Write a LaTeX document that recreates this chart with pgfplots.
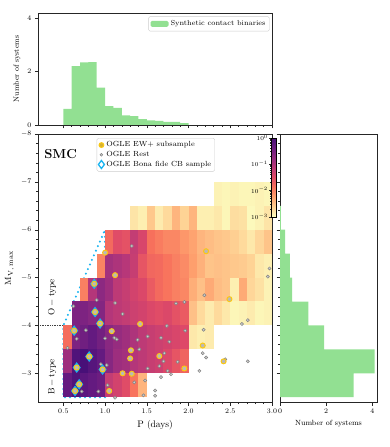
\documentclass[border=0pt]{standalone}
\usepackage{pgfplots}
\usepackage{pgfplotstable}
\pgfplotsset{compat=1.18}

\definecolor{histgreen}{RGB}{146,224,146}
\definecolor{cbcyan}{RGB}{25,180,240}
\definecolor{ewgold}{RGB}{250,200,20}
\definecolor{restgray}{RGB}{130,130,130}

% one heat-map cell: 0.1 d wide, 0.5 mag high at the axis scale used below
\pgfdeclareplotmark{cell}{%
  \pgfpathrectangle{\pgfpoint{-4.2pt}{-12pt}}{\pgfpoint{8.4pt}{24pt}}%
  \pgfusepathqfill}

\pgfplotsset{
  colormap={magmar}{rgb255(0pt)=(252,253,191); rgb255(13pt)=(254,207,146);
    rgb255(26pt)=(254,159,109); rgb255(38pt)=(247,112,92); rgb255(51pt)=(222,73,104);
    rgb255(64pt)=(183,55,121); rgb255(77pt)=(140,41,129); rgb255(90pt)=(100,26,128);
    rgb255(100pt)=(72,16,120)},
  panel/.style={
    scale only axis, tick align=outside, tick pos=left,
    major tick length=3.5pt, minor tick length=2pt,
    axis line style={black!85}, every tick/.style={black!85},
    tick label style={font=\fontsize{7}{8}\selectfont},
  },
}

% log10 of the fraction of systems per cell
\pgfplotstableread{
P M v
2.35 -6.75 -2.91
2.45 -6.75 -2.94
2.55 -6.75 -2.91
2.65 -6.75 -2.94
2.75 -6.75 -2.94
2.85 -6.75 -2.91
2.95 -6.75 -2.94
1.35 -6.25 -2.79
1.45 -6.25 -2.88
1.55 -6.25 -2.55
1.65 -6.25 -2.85
1.75 -6.25 -2.70
1.85 -6.25 -2.40
1.95 -6.25 -2.64
2.05 -6.25 -2.40
2.15 -6.25 -2.88
2.25 -6.25 -2.88
2.35 -6.25 -2.82
2.45 -6.25 -2.94
2.55 -6.25 -2.73
2.65 -6.25 -2.76
2.75 -6.25 -2.97
2.85 -6.25 -2.91
2.95 -6.25 -2.79
1.05 -5.75 -1.80
1.15 -5.75 -1.50
1.25 -5.75 -1.56
1.35 -5.75 -1.20
1.45 -5.75 -1.41
1.55 -5.75 -1.86
1.65 -5.75 -1.95
1.75 -5.75 -2.04
1.85 -5.75 -2.04
1.95 -5.75 -2.16
2.05 -5.75 -2.25
2.15 -5.75 -2.40
2.25 -5.75 -2.46
2.35 -5.75 -2.52
2.45 -5.75 -2.55
2.55 -5.75 -2.61
2.65 -5.75 -2.70
2.75 -5.75 -2.82
2.85 -5.75 -2.67
2.95 -5.75 -2.52
0.95 -5.25 -2.01
1.05 -5.25 -0.90
1.15 -5.25 -0.99
1.25 -5.25 -1.08
1.35 -5.25 -1.23
1.45 -5.25 -1.59
1.55 -5.25 -1.77
1.65 -5.25 -1.80
1.75 -5.25 -1.89
1.85 -5.25 -1.98
1.95 -5.25 -2.07
2.05 -5.25 -2.22
2.15 -5.25 -2.37
2.25 -5.25 -2.52
2.35 -5.25 -2.49
2.45 -5.25 -2.52
2.55 -5.25 -2.55
2.65 -5.25 -2.58
2.75 -5.25 -2.64
2.85 -5.25 -2.82
2.95 -5.25 -2.88
0.75 -4.75 -1.98
0.85 -4.75 -1.05
0.95 -4.75 -0.69
1.05 -4.75 -0.84
1.15 -4.75 -1.14
1.25 -4.75 -1.23
1.35 -4.75 -1.35
1.45 -4.75 -1.44
1.55 -4.75 -1.65
1.65 -4.75 -1.80
1.75 -4.75 -1.89
1.85 -4.75 -1.98
1.95 -4.75 -2.04
2.05 -4.75 -2.34
2.15 -4.75 -2.49
2.25 -4.75 -2.31
2.35 -4.75 -2.46
2.45 -4.75 -2.52
2.55 -4.75 -2.88
2.65 -4.75 -2.31
2.75 -4.75 -2.67
2.85 -4.75 -2.76
2.95 -4.75 -2.91
0.65 -4.25 -0.54
0.75 -4.25 -0.54
0.85 -4.25 -0.63
0.95 -4.25 -0.60
1.05 -4.25 -1.05
1.15 -4.25 -1.14
1.25 -4.25 -1.20
1.35 -4.25 -1.29
1.45 -4.25 -1.35
1.55 -4.25 -1.44
1.65 -4.25 -1.50
1.75 -4.25 -1.44
1.85 -4.25 -1.56
1.95 -4.25 -1.65
2.05 -4.25 -2.49
2.15 -4.25 -2.70
2.25 -4.25 -2.85
2.35 -4.25 -2.70
2.45 -4.25 -2.82
2.55 -4.25 -2.94
2.65 -4.25 -2.91
2.75 -4.25 -2.85
2.85 -4.25 -2.94
2.95 -4.25 -2.91
0.55 -3.75 -1.83
0.65 -3.75 -0.54
0.75 -3.75 -0.42
0.85 -3.75 -0.30
0.95 -3.75 -0.45
1.05 -3.75 -0.66
1.15 -3.75 -0.78
1.25 -3.75 -0.87
1.35 -3.75 -0.99
1.45 -3.75 -1.14
1.55 -3.75 -1.23
1.65 -3.75 -1.29
1.75 -3.75 -1.35
1.85 -3.75 -1.41
1.95 -3.75 -1.47
2.05 -3.75 -2.82
2.15 -3.75 -2.88
2.25 -3.75 -2.85
0.55 -3.25 -0.84
0.65 -3.25 -0.09
0.75 -3.25 0.00
0.85 -3.25 -0.15
0.95 -3.25 -0.30
1.05 -3.25 -0.63
1.15 -3.25 -0.84
1.25 -3.25 -0.90
1.35 -3.25 -1.05
1.45 -3.25 -1.14
1.55 -3.25 -1.23
1.65 -3.25 -1.29
1.75 -3.25 -1.44
1.85 -3.25 -1.59
1.95 -3.25 -1.74
0.55 -2.75 -0.30
0.65 -2.75 -0.09
0.75 -2.75 -0.21
0.85 -2.75 -0.30
0.95 -2.75 -0.39
1.05 -2.75 -1.20
1.15 -2.75 -1.35
1.25 -2.75 -1.50
1.35 -2.75 -1.89
1.45 -2.75 -2.40
}\heat

\pgfplotstableread{
P M
1.00 -5.52
1.12 -5.05
2.21 -5.55
2.49 -4.55
1.42 -4.03
1.08 -3.88
1.31 -3.48
1.30 -3.31
1.65 -3.36
2.17 -3.58
2.42 -3.25
1.95 -3.10
1.21 -3.00
1.32 -2.99
1.05 -2.63
0.87 -4.87
0.88 -4.28
0.94 -4.04
0.63 -3.89
0.81 -3.35
0.66 -3.12
0.97 -3.08
0.69 -2.77
0.64 -2.63
}\ewplus

\pgfplotstableread{
P M
1.32 -5.66
2.97 -5.19
2.95 -5.02
2.19 -4.63
0.62 -4.40
0.90 -4.53
1.12 -4.47
1.85 -4.46
1.95 -4.49
1.21 -4.24
2.71 -4.11
2.64 -4.03
1.74 -3.99
1.96 -3.89
2.18 -3.91
0.77 -3.90
1.00 -3.73
1.11 -3.74
1.14 -3.71
1.39 -3.70
1.51 -3.77
1.67 -3.74
1.77 -3.66
0.55 -3.53
1.41 -3.50
1.71 -3.42
2.17 -3.42
2.21 -3.33
2.44 -3.29
2.71 -3.25
1.70 -3.25
1.87 -3.24
0.95 -3.19
1.02 -3.17
1.51 -3.10
1.65 -3.15
1.75 -3.05
1.79 -2.98
2.13 -3.05
1.33 -2.97
1.67 -2.92
1.48 -2.85
1.35 -2.81
1.03 -2.75
0.72 -2.62
0.92 -2.62
1.46 -2.54
1.60 -2.64
1.60 -2.53
1.12 -2.49
0.66 -3.72
}\rest

\pgfplotstableread{
P M
0.87 -4.87
0.88 -4.28
0.94 -4.04
0.63 -3.89
0.81 -3.35
0.66 -3.12
0.97 -3.08
0.69 -2.77
0.64 -2.63
}\bonafide

\begin{document}
\begin{tikzpicture}
\useasboundingbox (-38.3pt,-45pt) rectangle (350.7pt,402pt);

% ---- main panel
\begin{axis}[panel, name=main, at={(0pt,0pt)}, anchor=south west,
  width=233.7pt, height=268pt,
  xmin=0.2, xmax=3.0, ymin=-8, ymax=-2.4, y dir=reverse,
  xtick={0.5,1,...,3}, minor x tick num=4,
  ytick={-8,-7,...,-3}, minor y tick num=4,
  xticklabel style={/pgf/number format/.cd, fixed, fixed zerofill, precision=1},
  xlabel={P (days)}, ylabel={$\mathrm{M_{V,\;max}}$},
  xlabel style={font=\fontsize{9.5}{11}\selectfont},
  ylabel style={font=\fontsize{9.5}{11}\selectfont},
  axis on top,
  colormap name=magmar, point meta min=-3, point meta max=0,
  colorbar,
  colorbar style={
    at={(parent axis.north east)}, anchor=north east, xshift=-4pt, yshift=-3.7pt,
    scale only axis, width=5pt, height=79pt,
    ytick={-3,-2,-1,0}, yticklabels={$10^{-3}$,$10^{-2}$,$10^{-1}$,$10^{0}$},
    minor ytick={-2.699,-2.523,-2.398,-2.301,-2.222,-2.155,-2.097,-2.046,
                 -1.699,-1.523,-1.398,-1.301,-1.222,-1.155,-1.097,-1.046,
                 -0.699,-0.523,-0.398,-0.301,-0.222,-0.155,-0.097,-0.046},
    yticklabel pos=left, ytick pos=left, tick align=outside,
    major tick length=2.5pt, minor tick length=1.3pt,
    yticklabel style={font=\fontsize{6.5}{7}\selectfont, inner sep=1pt},
  },
  legend cell align=left,
  legend style={at={(0.25,0.985)}, anchor=north west, draw=black!20,
    rounded corners=1.5pt, font=\fontsize{7.4}{8}\selectfont,
    inner sep=1.5pt, row sep=-1pt},
]
\addlegendimage{only marks, mark=*, mark size=2.4pt, draw=ewgold, fill=ewgold!70!gray, line width=1pt}
\addlegendentry{OGLE EW+ subsample}
\addlegendimage{only marks, mark=*, mark size=1.4pt, draw=restgray, fill=gray!40, line width=0.5pt}
\addlegendentry{OGLE Rest}
\addlegendimage{only marks, mark=diamond, mark size=4pt, draw=cbcyan, line width=1.3pt}
\addlegendentry{OGLE Bona fide CB sample}

\addplot[scatter, only marks, mark=cell, point meta=explicit,
  scatter/use mapped color={fill=mapped color, draw=none}, forget plot]
  table[x=P, y=M, meta=v] {\heat};

\addplot[black!75, densely dotted, line width=0.7pt, forget plot]
  coordinates {(0.2,-4) (2.0,-4)};
\addplot[cbcyan, line width=2.3pt, line cap=round, dash pattern=on 0pt off 5pt, forget plot]
  coordinates {(1.0,-2.5) (0.5,-2.5) (0.5,-4.0) (1.0,-6.0) (1.0,-2.5)};

\addplot[only marks, mark=*, mark size=1.6pt, draw=restgray, fill=gray!40,
  line width=0.5pt, forget plot] table[x=P, y=M] {\rest};
\addplot[only marks, mark=diamond, mark size=4.2pt, draw=cbcyan,
  line width=1.5pt, forget plot] table[x=P, y=M] {\bonafide};
\addplot[only marks, mark=*, mark size=2.5pt, draw=ewgold, fill=gray!55,
  line width=1pt, forget plot] table[x=P, y=M] {\ewplus};

\node[anchor=west, inner sep=0, font=\fontsize{13}{15}\selectfont\bfseries]
  at (axis cs:0.27,-7.58) {SMC};
\node[rotate=90, font=\fontsize{9.5}{11}\selectfont] at (axis cs:0.365,-4.59) {$\mathrm{O-type}$};
\node[rotate=90, font=\fontsize{9.5}{11}\selectfont] at (axis cs:0.365,-2.92) {$\mathrm{B-type}$};
\node[rotate=40, text=cbcyan, font=\fontsize{11}{13}\selectfont] at (axis cs:0.82,-3.52) {CBs};
\end{axis}

% ---- period histogram (top)
\begin{axis}[panel, at={(0pt,277pt)}, anchor=south west,
  width=233.7pt, height=112pt,
  xmin=0.2, xmax=3.0, ymin=0, ymax=4.2,
  xtick={0.5,1,...,3}, minor x tick num=4, xticklabels={},
  ytick={0,2,4},
  ylabel={Number of systems}, ylabel style={font=\fontsize{7.5}{9}\selectfont},
  legend style={at={(0.99,0.97)}, anchor=north east, draw=black!20,
    rounded corners=1.5pt, font=\fontsize{7.3}{8}\selectfont, inner sep=2pt},
]
\addplot[ybar interval, fill=histgreen, draw=none,
  legend image code/.code={\fill[histgreen] (0pt,-3pt) rectangle (18pt,3pt);}]
  coordinates {(0.5,0.60) (0.6,2.21) (0.7,2.35) (0.8,2.36) (0.9,1.40) (1.0,0.71)
    (1.1,0.64) (1.2,0.36) (1.3,0.33) (1.4,0.22) (1.5,0.17) (1.6,0.15) (1.7,0.12)
    (1.8,0.12) (1.9,0.07) (2.0,0)};
\addlegendentry{Synthetic contact binaries}
\end{axis}

% ---- magnitude histogram (right)
\begin{axis}[panel, at={(241.7pt,0pt)}, anchor=south west,
  width=97pt, height=268pt,
  xmin=0, xmax=4.2, ymin=-8, ymax=-2.4, y dir=reverse,
  xtick={0,2,4}, ytick={-8,-7,...,-3}, minor y tick num=4, yticklabels={},
  xlabel={Number of systems}, xlabel style={font=\fontsize{7.5}{9}\selectfont},
]
\addplot[xbar interval, fill=histgreen, draw=none]
  coordinates {(0.04,-6.5) (0.22,-6.0) (0.43,-5.5) (0.52,-5.0) (1.23,-4.5)
    (1.91,-4.0) (4.10,-3.5) (3.19,-3.0) (0,-2.5)};
\end{axis}
\end{tikzpicture}
\end{document}
